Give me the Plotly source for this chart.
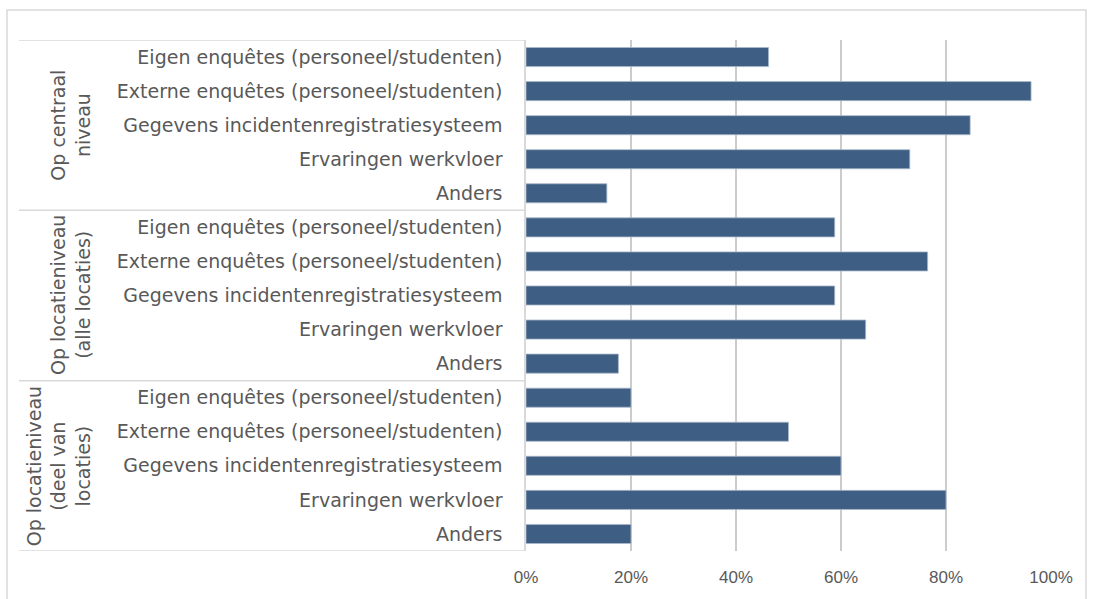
import plotly.graph_objects as go

categories = [
    "Eigen enquêtes (personeel/studenten)",
    "Externe enquêtes (personeel/studenten)",
    "Gegevens incidentenregistratiesysteem",
    "Ervaringen werkvloer",
    "Anders",
]
groups = [
    "Op centraal<br>niveau",
    "Op locatieniveau<br>(alle locaties)",
    "Op locatieniveau<br>(deel van<br>locaties)",
]
centraal = [46.2, 96.2, 84.6, 73.1, 15.4]
alle_locaties = [58.8, 76.5, 58.8, 64.7, 17.6]
deel_locaties = [20, 50, 60, 80, 20]
x_ticks = [0, 20, 40, 60, 80, 100]
x_ticktext = ["0%", "20%", "40%", "60%", "80%", "100%"]

series = [centraal, alle_locaties, deel_locaties]
values = [v for s in series for v in s]
labels = categories * len(groups)
ypos = list(range(len(values)))

W, H = 1094, 599
L, R, T, B = 526, 43, 40, 46
pw = W - L - R
ph = H - T - B

fig = go.Figure(go.Bar(
    x=values, y=ypos, orientation="h",
    width=0.56,
    marker=dict(color="#3e5f83", line=dict(color="#a9b8ca", width=0.8)),
    hoverinfo="x+text", text=labels, textposition="none",
))

shapes = []
n = len(categories)
for g in range(len(groups) + 1):
    yv = g * n - 0.5
    shapes.append(dict(type="line", xref="paper", yref="y",
                       x0=(19 - L) / pw, x1=0, y0=yv, y1=yv,
                       line=dict(color="#d9d9d9", width=1.5)))
shapes.append(dict(type="rect", xref="paper", yref="paper",
                   x0=(7 - L) / pw, x1=(1086 - L) / pw,
                   y0=-(B + 20) / ph, y1=1 + (T - 10) / ph,
                   line=dict(color="#d9d9d9", width=1.5), fillcolor="rgba(0,0,0,0)"))

annotations = []
for g, name in enumerate(groups):
    annotations.append(dict(
        text=name, xref="paper", yref="y",
        x=(96 - L) / pw, y=g * n + (n - 1) / 2,
        xanchor="right", yanchor="middle", textangle=-90,
        showarrow=False, align="center",
        font=dict(family="DejaVu Sans", size=19, color="#595959"),
    ))

fig.update_layout(
    width=W, height=H,
    margin=dict(l=L, r=R, t=T, b=B),
    paper_bgcolor="white", plot_bgcolor="white",
    showlegend=False,
    shapes=shapes, annotations=annotations,
    xaxis=dict(range=[0, 100], tickvals=x_ticks, ticktext=x_ticktext,
               showgrid=True, gridcolor="#cccccc", gridwidth=1.5,
               zeroline=False, showline=False, ticks="",
               ticklabelstandoff=14,
               tickfont=dict(family="Liberation Sans", size=17, color="#595959")),
    yaxis=dict(tickvals=ypos, ticktext=labels, range=[len(values) - 0.5, -0.5],
               showgrid=False, zeroline=False, showline=True,
               linecolor="#d9d9d9", linewidth=1.5, ticks="",
               ticklabelstandoff=18,
               tickfont=dict(family="DejaVu Sans", size=19, color="#595959")),
)

fig.write_html("out.html", config={"displayModeBar": False},
               post_script="document.body.style.margin='0px';")
